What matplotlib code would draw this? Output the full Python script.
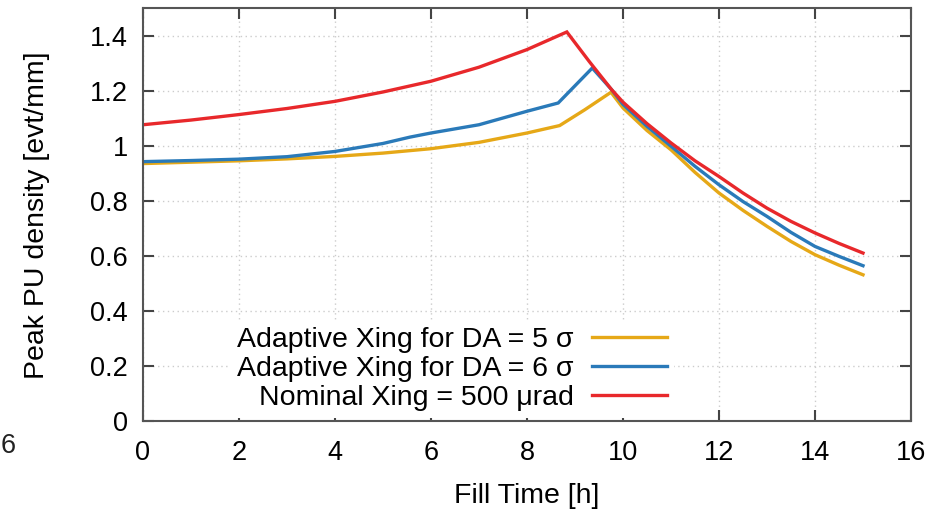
import matplotlib.pyplot as plt

plt.rcParams['font.family'] = ['Liberation Sans', 'DejaVu Sans']

# 读图得到的数据 (Fill Time [h], Peak PU density [evt/mm])
t_da5 = [0, 1, 2, 3, 4, 5, 6, 7, 8, 8.68, 9.2, 9.75, 10, 10.5, 11, 11.5, 12, 12.5, 13, 13.5, 14, 14.5, 15]
pu_da5 = [0.935, 0.940, 0.945, 0.952, 0.961, 0.973, 0.989, 1.012, 1.046, 1.073, 1.13, 1.194,
          1.137, 1.055, 0.985, 0.903, 0.828, 0.765, 0.707, 0.652, 0.604, 0.566, 0.531]

t_da6 = [0, 1, 2, 3, 4, 5, 5.56, 6, 7, 8, 8.65, 9.36, 9.76, 10, 10.5, 11, 11.5, 12, 12.5, 13, 13.5, 14, 14.5, 15]
pu_da6 = [0.942, 0.946, 0.951, 0.960, 0.979, 1.008, 1.031, 1.046, 1.076, 1.125, 1.155, 1.282, 1.204,
          1.150, 1.070, 0.998, 0.925, 0.858, 0.797, 0.743, 0.685, 0.634, 0.598, 0.564]

t_nom = [0, 1, 2, 3, 4, 5, 6, 7, 8, 8.83, 9.3, 9.76, 10, 10.5, 11, 11.5, 12, 12.5, 13, 13.5, 14, 14.5, 15]
pu_nom = [1.076, 1.093, 1.113, 1.135, 1.161, 1.195, 1.234, 1.285, 1.349, 1.413, 1.305, 1.204,
          1.158, 1.080, 1.010, 0.945, 0.888, 0.828, 0.773, 0.725, 0.683, 0.645, 0.610]

labels = ['Adaptive Xing for DA = 5 σ', 'Adaptive Xing for DA = 6 σ', 'Nominal Xing = 500 μrad']
colors = ['#e6a817', '#2a7ab9', '#e8282b']

fig = plt.figure(figsize=(9.37, 5.15), dpi=100)
ax = fig.add_axes([143 / 937, 1 - 421 / 515, 768 / 937, 413 / 515])

for t, pu, lab, c in zip([t_da5, t_da6, t_nom], [pu_da5, pu_da6, pu_nom], labels, colors):
    ax.plot(t, pu, color=c, lw=2.4, label=lab, solid_joinstyle='miter')

ax.set_xlim(0, 16)
ax.set_ylim(0, 1.5)
ax.set_xticks(range(0, 17, 2))
ax.set_yticks([0, 0.2, 0.4, 0.6, 0.8, 1.0, 1.2, 1.4])
ax.set_yticklabels(['0', '0.2', '0.4', '0.6', '0.8', '1', '1.2', '1.4'])
ax.tick_params(direction='in', length=8, width=1.5, color='#444444', labelsize=19.5,
               top=True, right=True)
ax.tick_params(axis='x', pad=14)
ax.tick_params(axis='y', pad=11)
ax.grid(True, ls=(0, (1, 2.5)), color='#cccccc', lw=1)
for s in ax.spines.values():
    s.set_color('#555555')
    s.set_linewidth(1.5)

ax.set_xlabel('Fill Time [h]', fontsize=20.5, labelpad=12)
ax.set_ylabel('Peak PU density [evt/mm]', fontsize=20.5)
ax.yaxis.set_label_coords(-(143 - 50) / 768, (421 - 215) / 413)

leg = ax.legend(loc='lower right', bbox_to_anchor=((677 - 143) / 768, 0.0), markerfirst=False,
                fontsize=20.5, handlelength=2.65, handletextpad=0.62, labelspacing=0.1,
                borderpad=0.25, borderaxespad=0.1, frameon=True, fancybox=False)
leg.get_frame().set_edgecolor('none')
leg.get_frame().set_facecolor('white')
leg.get_frame().set_alpha(1)

# 左边被裁掉的残字
fig.text(1 / 937, 1 - 446 / 515, '6', fontsize=19.5, ha='left', va='center', color='#222222')

fig.savefig('out.png', dpi=100)
